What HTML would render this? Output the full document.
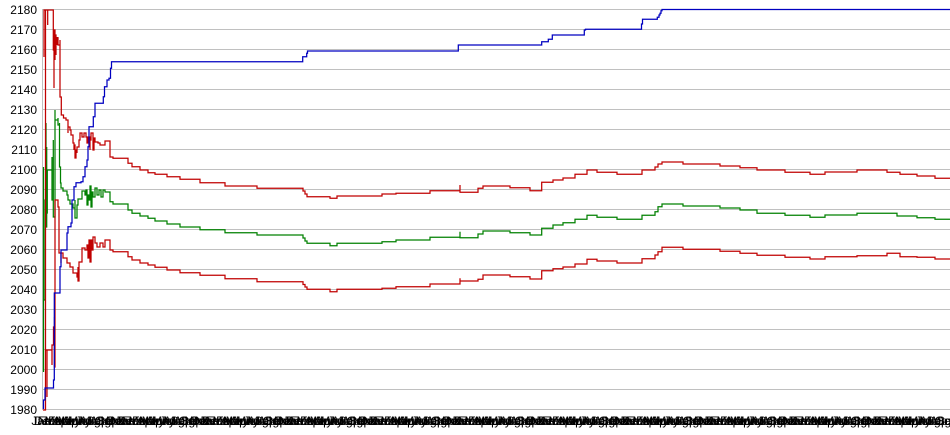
<!DOCTYPE html>
<html><head><meta charset="utf-8"><style>
html,body{margin:0;padding:0;background:#fff;}
svg{display:block;}
</style></head><body>
<svg width="950" height="435" viewBox="0 0 950 435" xmlns="http://www.w3.org/2000/svg">
<rect width="950" height="435" fill="#fff"/>
<g stroke="#c0c0c0" stroke-width="1" shape-rendering="crispEdges">
<line x1="43" y1="9.5" x2="950" y2="9.5"/><line x1="43" y1="29.5" x2="950" y2="29.5"/><line x1="43" y1="49.5" x2="950" y2="49.5"/><line x1="43" y1="69.5" x2="950" y2="69.5"/><line x1="43" y1="89.5" x2="950" y2="89.5"/><line x1="43" y1="109.5" x2="950" y2="109.5"/><line x1="43" y1="129.5" x2="950" y2="129.5"/><line x1="43" y1="149.5" x2="950" y2="149.5"/><line x1="43" y1="169.5" x2="950" y2="169.5"/><line x1="43" y1="189.5" x2="950" y2="189.5"/><line x1="43" y1="209.5" x2="950" y2="209.5"/><line x1="43" y1="229.5" x2="950" y2="229.5"/><line x1="43" y1="249.5" x2="950" y2="249.5"/><line x1="43" y1="269.5" x2="950" y2="269.5"/><line x1="43" y1="289.5" x2="950" y2="289.5"/><line x1="43" y1="309.5" x2="950" y2="309.5"/><line x1="43" y1="329.5" x2="950" y2="329.5"/><line x1="43" y1="349.5" x2="950" y2="349.5"/><line x1="43" y1="369.5" x2="950" y2="369.5"/><line x1="43" y1="389.5" x2="950" y2="389.5"/><line x1="43" y1="409.5" x2="950" y2="409.5"/>
<line x1="42.5" y1="9" x2="42.5" y2="410"/>
</g>
<g font-family="Liberation Sans, Arial, sans-serif" font-size="12" fill="#000" text-anchor="end">
<text x="37" y="13.8">2180</text><text x="37" y="33.8">2170</text><text x="37" y="53.8">2160</text><text x="37" y="73.8">2150</text><text x="37" y="93.8">2140</text><text x="37" y="113.8">2130</text><text x="37" y="133.8">2120</text><text x="37" y="153.8">2110</text><text x="37" y="173.8">2100</text><text x="37" y="193.8">2090</text><text x="37" y="213.8">2080</text><text x="37" y="233.8">2070</text><text x="37" y="253.8">2060</text><text x="37" y="273.8">2050</text><text x="37" y="293.8">2040</text><text x="37" y="313.8">2030</text><text x="37" y="333.8">2020</text><text x="37" y="353.8">2010</text><text x="37" y="373.8">2000</text><text x="37" y="393.8">1990</text><text x="37" y="413.8">1980</text>
</g>
<g fill="none" stroke-width="1.25" stroke-linejoin="miter">
<path stroke="#c00000" d="M44,57 V10 H47.7 V25 V10 H53.3 V50 H54 V88 V30 H55 V60 V35 H56 V55 V38 H57 V45 V38 H58 V45 H60 V40 V97 H61.3 V115 H63.5 V118 H66 V120 H68 V123 V133 V127 H70 V130 H71 V135 H73 V143 H74 V150 V145 H75 V158 H76 V150 H77 V153 V147 H79 V140 H80 V133 H82 V137 H84 V133 H86 V137 H87 V143 H88 V137 H90 V150 V140 H91 V133 H93 V150 H94 V138 H95 V142 H98 V143 H100 V145 H105 V141 H110 V157 H113 V158.3 H128 V163.3 H132 V166.7 H140 V170 H148 V172.7 H155 V174.3 H167 V176.7 H180 V179.3 H200 V182.7 H225 V186 H257 V188.3 H303 V191 H305 V194 H307 V196.7 H330 V198.3 H337 V196 H382 V194 H396 V193.3 H430 V190.7 H460 V185 V192.3 H478 V188.3 H483 V186 H510 V187.7 H530 V190.7 H541.7 V182.3 H553 V180 H563 V178 H575 V174.3 H587 V170 H597 V172.3 H617 V174.3 H642 V170 H655 V167 H658 V164 H662 V162 H683 V164 H720 V166 H740 V167.7 H757 V170 H785 V172.3 H810 V174.3 H825 V172 H857 V170 H887 V172.3 H900 V174.3 H917 V176 H935 V178.3 H950"/>
<rect x="54.5" y="37" width="4" height="7" fill="#c00000" stroke="none"/>
<path stroke="#008000" d="M43.5,372 V167 V300 H45 V200 H46 V123 V227 H46.7 V147 V213 H47.3 V170 H52 V157 V200 H53.3 V140 V217 H55 V110 V200 V120 H58 V118 V125 H59.5 V123 V167 H60.5 V183 H61 V188 H63 V191 H67 V195 H68 V200 H70 V204 H73 V208 H75 V200 V218 H77 V205 H78 V199 H82 V191 H85 V195 H86 V190 H87 V205 H88 V195 H89 V200 H90 V186 H91 V207 H92 V192 H93 V197 H95 V188 H97 V195 H99 V190 H101 V197 H103 V190 H105 V192 H110 V201.7 H113 V204 H128 V210 H132 V213.3 H140 V216 H148 V218.3 H155 V221 H167 V224 H180 V227 H200 V229.7 H225 V232.7 H257 V235 H303 V238 H305 V241 H307 V243.3 H330 V245.7 H337 V243.3 H382 V241.7 H396 V240 H430 V237.3 H460 V231.7 V237.7 H478 V234 H483 V231 H510 V232.7 H530 V235 H541.7 V228.3 H553 V225 H563 V222.7 H575 V219.3 H587 V215.3 H597 V217.3 H617 V219.3 H642 V215.3 H655 V211.7 H658 V206.7 H662 V204 H683 V206 H720 V208 H740 V210 H757 V213.3 H785 V215.3 H810 V217.3 H825 V215 H857 V213.3 H897 V216 H917 V217.7 H935 V219.3 H950"/>
<path stroke="#c00000" d="M43,410 H45.5 V10 V350 H47 V397 V350 H52 V365 V345 H53.5 V327 H54.5 V317 V367 H55 V293 V200 H58 V207 H59 V253 H61 V263 V253 H63 V258 H67 V263 H70 V267 H73 V273 H77 V277 H78 V267 V281 H79 V262 H82 V248 H85 V250 H87 V245 H88 V258 H89 V240 H90 V262 H91 V240 H92 V250 H93 V237 H95 V243 H97 V247 H100 V243 H103 V247 H105 V240 H110 V250 H113 V251.7 H128 V256.7 H132 V260 H140 V263 H148 V265 H155 V267.3 H167 V270 H180 V272.7 H200 V275.3 H225 V278.7 H257 V281.7 H303 V284.5 H305 V287 H307 V289.3 H330 V291.7 H337 V289.3 H382 V288.3 H396 V286.7 H430 V284 H460 V278.3 V281 H478 V279.3 H483 V275 H510 V276.7 H530 V279 H541.7 V270.7 H553 V268.7 H563 V267 H575 V264 H587 V259.3 H597 V261 H617 V263 H642 V258.7 H655 V255 H658 V251.7 H662 V247.3 H683 V249.3 H720 V251.3 H740 V253.3 H757 V255.3 H785 V257.3 H810 V259 H825 V256.7 H857 V255.7 H887 V253.3 H900 V256.7 H917 V257.3 H935 V259 H950"/>
<path stroke="#0000c0" d="M43.5,409 V400 H45 V388 H53.5 V380 H54.3 V350 V293 H60 V266.7 H61 V250 H67 V233 H68 V226.7 H71 V223 H72 V200 H74 V186.7 H76 V182.7 H81 V181.7 H83 V176.7 H85 V166.7 H87 V160 H88 V146.7 H89 V126.7 H93.3 V116.7 H95 V103.3 H103.3 V96.7 H104.5 V86.7 H107 V80 H109 V78.3 H110.5 V68.3 H111.5 V61.7 H302.7 V56.7 H306.7 V53.3 H307.5 V51 H458.3 V45 H541.7 V41.7 H548.3 V39.3 H552.3 V35 H584.3 V30 H585.5 V29.3 H641.5 V24 H642.5 V19.3 H657.3 V17.3 H659 V15 H660 V13.3 H661 V10.7 H662 V9.5 H950"/>
</g>
<g font-family="Liberation Sans, Arial, sans-serif" font-size="12" fill="#000" text-anchor="middle">
<text x="41" y="425">Jan</text><text x="48" y="425">Feb</text><text x="55" y="425">Mar</text><text x="62" y="425">Apr</text><text x="69" y="425">May</text><text x="76" y="425">Jun</text><text x="83" y="425">Jul</text><text x="90" y="425">Aug</text><text x="97" y="425">Sep</text><text x="104" y="425">Oct</text><text x="111" y="425">Nov</text><text x="118" y="425">Dec</text>
<text x="125" y="425">Jan</text><text x="132" y="425">Feb</text><text x="139" y="425">Mar</text><text x="146" y="425">Apr</text><text x="153" y="425">May</text><text x="160" y="425">Jun</text><text x="167" y="425">Jul</text><text x="174" y="425">Aug</text><text x="181" y="425">Sep</text><text x="188" y="425">Oct</text><text x="195" y="425">Nov</text><text x="202" y="425">Dec</text>
<text x="209" y="425">Jan</text><text x="216" y="425">Feb</text><text x="223" y="425">Mar</text><text x="230" y="425">Apr</text><text x="237" y="425">May</text><text x="244" y="425">Jun</text><text x="251" y="425">Jul</text><text x="258" y="425">Aug</text><text x="265" y="425">Sep</text><text x="272" y="425">Oct</text><text x="279" y="425">Nov</text><text x="286" y="425">Dec</text>
<text x="293" y="425">Jan</text><text x="300" y="425">Feb</text><text x="307" y="425">Mar</text><text x="314" y="425">Apr</text><text x="321" y="425">May</text><text x="328" y="425">Jun</text><text x="335" y="425">Jul</text><text x="342" y="425">Aug</text><text x="349" y="425">Sep</text><text x="356" y="425">Oct</text><text x="363" y="425">Nov</text><text x="370" y="425">Dec</text>
<text x="377" y="425">Jan</text><text x="384" y="425">Feb</text><text x="391" y="425">Mar</text><text x="398" y="425">Apr</text><text x="405" y="425">May</text><text x="412" y="425">Jun</text><text x="419" y="425">Jul</text><text x="426" y="425">Aug</text><text x="433" y="425">Sep</text><text x="440" y="425">Oct</text><text x="447" y="425">Nov</text><text x="454" y="425">Dec</text>
<text x="461" y="425">Jan</text><text x="468" y="425">Feb</text><text x="475" y="425">Mar</text><text x="482" y="425">Apr</text><text x="489" y="425">May</text><text x="496" y="425">Jun</text><text x="503" y="425">Jul</text><text x="510" y="425">Aug</text><text x="517" y="425">Sep</text><text x="524" y="425">Oct</text><text x="531" y="425">Nov</text><text x="538" y="425">Dec</text>
<text x="545" y="425">Jan</text><text x="552" y="425">Feb</text><text x="559" y="425">Mar</text><text x="566" y="425">Apr</text><text x="573" y="425">May</text><text x="580" y="425">Jun</text><text x="587" y="425">Jul</text><text x="594" y="425">Aug</text><text x="601" y="425">Sep</text><text x="608" y="425">Oct</text><text x="615" y="425">Nov</text><text x="622" y="425">Dec</text>
<text x="629" y="425">Jan</text><text x="636" y="425">Feb</text><text x="643" y="425">Mar</text><text x="650" y="425">Apr</text><text x="657" y="425">May</text><text x="664" y="425">Jun</text><text x="671" y="425">Jul</text><text x="678" y="425">Aug</text><text x="685" y="425">Sep</text><text x="692" y="425">Oct</text><text x="699" y="425">Nov</text><text x="706" y="425">Dec</text>
<text x="713" y="425">Jan</text><text x="720" y="425">Feb</text><text x="727" y="425">Mar</text><text x="734" y="425">Apr</text><text x="741" y="425">May</text><text x="748" y="425">Jun</text><text x="755" y="425">Jul</text><text x="762" y="425">Aug</text><text x="769" y="425">Sep</text><text x="776" y="425">Oct</text><text x="783" y="425">Nov</text><text x="790" y="425">Dec</text>
<text x="797" y="425">Jan</text><text x="804" y="425">Feb</text><text x="811" y="425">Mar</text><text x="818" y="425">Apr</text><text x="825" y="425">May</text><text x="832" y="425">Jun</text><text x="839" y="425">Jul</text><text x="846" y="425">Aug</text><text x="853" y="425">Sep</text><text x="860" y="425">Oct</text><text x="867" y="425">Nov</text><text x="874" y="425">Dec</text>
<text x="881" y="425">Jan</text><text x="888" y="425">Feb</text><text x="895" y="425">Mar</text><text x="902" y="425">Apr</text><text x="909" y="425">May</text><text x="916" y="425">Jun</text><text x="923" y="425">Jul</text><text x="930" y="425">Aug</text><text x="937" y="425">Sep</text><text x="944" y="425">Oct</text>
</g>
<g font-family="Liberation Sans, Arial, sans-serif" font-size="12" fill="#000" text-anchor="middle">
<text x="44.5" y="425">Dec</text><text x="51.5" y="425">Jan</text><text x="58.5" y="425">Feb</text><text x="65.5" y="425">Mar</text><text x="72.5" y="425">Apr</text><text x="79.5" y="425">May</text><text x="86.5" y="425">Jun</text><text x="93.5" y="425">Jul</text><text x="100.5" y="425">Aug</text><text x="107.5" y="425">Sep</text><text x="114.5" y="425">Oct</text><text x="121.5" y="425">Nov</text>
<text x="128.5" y="425">Dec</text><text x="135.5" y="425">Jan</text><text x="142.5" y="425">Feb</text><text x="149.5" y="425">Mar</text><text x="156.5" y="425">Apr</text><text x="163.5" y="425">May</text><text x="170.5" y="425">Jun</text><text x="177.5" y="425">Jul</text><text x="184.5" y="425">Aug</text><text x="191.5" y="425">Sep</text><text x="198.5" y="425">Oct</text><text x="205.5" y="425">Nov</text>
<text x="212.5" y="425">Dec</text><text x="219.5" y="425">Jan</text><text x="226.5" y="425">Feb</text><text x="233.5" y="425">Mar</text><text x="240.5" y="425">Apr</text><text x="247.5" y="425">May</text><text x="254.5" y="425">Jun</text><text x="261.5" y="425">Jul</text><text x="268.5" y="425">Aug</text><text x="275.5" y="425">Sep</text><text x="282.5" y="425">Oct</text><text x="289.5" y="425">Nov</text>
<text x="296.5" y="425">Dec</text><text x="303.5" y="425">Jan</text><text x="310.5" y="425">Feb</text><text x="317.5" y="425">Mar</text><text x="324.5" y="425">Apr</text><text x="331.5" y="425">May</text><text x="338.5" y="425">Jun</text><text x="345.5" y="425">Jul</text><text x="352.5" y="425">Aug</text><text x="359.5" y="425">Sep</text><text x="366.5" y="425">Oct</text><text x="373.5" y="425">Nov</text>
<text x="380.5" y="425">Dec</text><text x="387.5" y="425">Jan</text><text x="394.5" y="425">Feb</text><text x="401.5" y="425">Mar</text><text x="408.5" y="425">Apr</text><text x="415.5" y="425">May</text><text x="422.5" y="425">Jun</text><text x="429.5" y="425">Jul</text><text x="436.5" y="425">Aug</text><text x="443.5" y="425">Sep</text><text x="450.5" y="425">Oct</text><text x="457.5" y="425">Nov</text>
<text x="464.5" y="425">Dec</text><text x="471.5" y="425">Jan</text><text x="478.5" y="425">Feb</text><text x="485.5" y="425">Mar</text><text x="492.5" y="425">Apr</text><text x="499.5" y="425">May</text><text x="506.5" y="425">Jun</text><text x="513.5" y="425">Jul</text><text x="520.5" y="425">Aug</text><text x="527.5" y="425">Sep</text><text x="534.5" y="425">Oct</text><text x="541.5" y="425">Nov</text>
<text x="548.5" y="425">Dec</text><text x="555.5" y="425">Jan</text><text x="562.5" y="425">Feb</text><text x="569.5" y="425">Mar</text><text x="576.5" y="425">Apr</text><text x="583.5" y="425">May</text><text x="590.5" y="425">Jun</text><text x="597.5" y="425">Jul</text><text x="604.5" y="425">Aug</text><text x="611.5" y="425">Sep</text><text x="618.5" y="425">Oct</text><text x="625.5" y="425">Nov</text>
<text x="632.5" y="425">Dec</text><text x="639.5" y="425">Jan</text><text x="646.5" y="425">Feb</text><text x="653.5" y="425">Mar</text><text x="660.5" y="425">Apr</text><text x="667.5" y="425">May</text><text x="674.5" y="425">Jun</text><text x="681.5" y="425">Jul</text><text x="688.5" y="425">Aug</text><text x="695.5" y="425">Sep</text><text x="702.5" y="425">Oct</text><text x="709.5" y="425">Nov</text>
<text x="716.5" y="425">Dec</text><text x="723.5" y="425">Jan</text><text x="730.5" y="425">Feb</text><text x="737.5" y="425">Mar</text><text x="744.5" y="425">Apr</text><text x="751.5" y="425">May</text><text x="758.5" y="425">Jun</text><text x="765.5" y="425">Jul</text><text x="772.5" y="425">Aug</text><text x="779.5" y="425">Sep</text><text x="786.5" y="425">Oct</text><text x="793.5" y="425">Nov</text>
<text x="800.5" y="425">Dec</text><text x="807.5" y="425">Jan</text><text x="814.5" y="425">Feb</text><text x="821.5" y="425">Mar</text><text x="828.5" y="425">Apr</text><text x="835.5" y="425">May</text><text x="842.5" y="425">Jun</text><text x="849.5" y="425">Jul</text><text x="856.5" y="425">Aug</text><text x="863.5" y="425">Sep</text><text x="870.5" y="425">Oct</text><text x="877.5" y="425">Nov</text>
<text x="884.5" y="425">Dec</text><text x="891.5" y="425">Jan</text><text x="898.5" y="425">Feb</text><text x="905.5" y="425">Mar</text><text x="912.5" y="425">Apr</text><text x="919.5" y="425">May</text><text x="926.5" y="425">Jun</text><text x="933.5" y="425">Jul</text><text x="940.5" y="425">Aug</text><text x="947.5" y="425">Sep</text>
</g>
</svg>
</body></html>
